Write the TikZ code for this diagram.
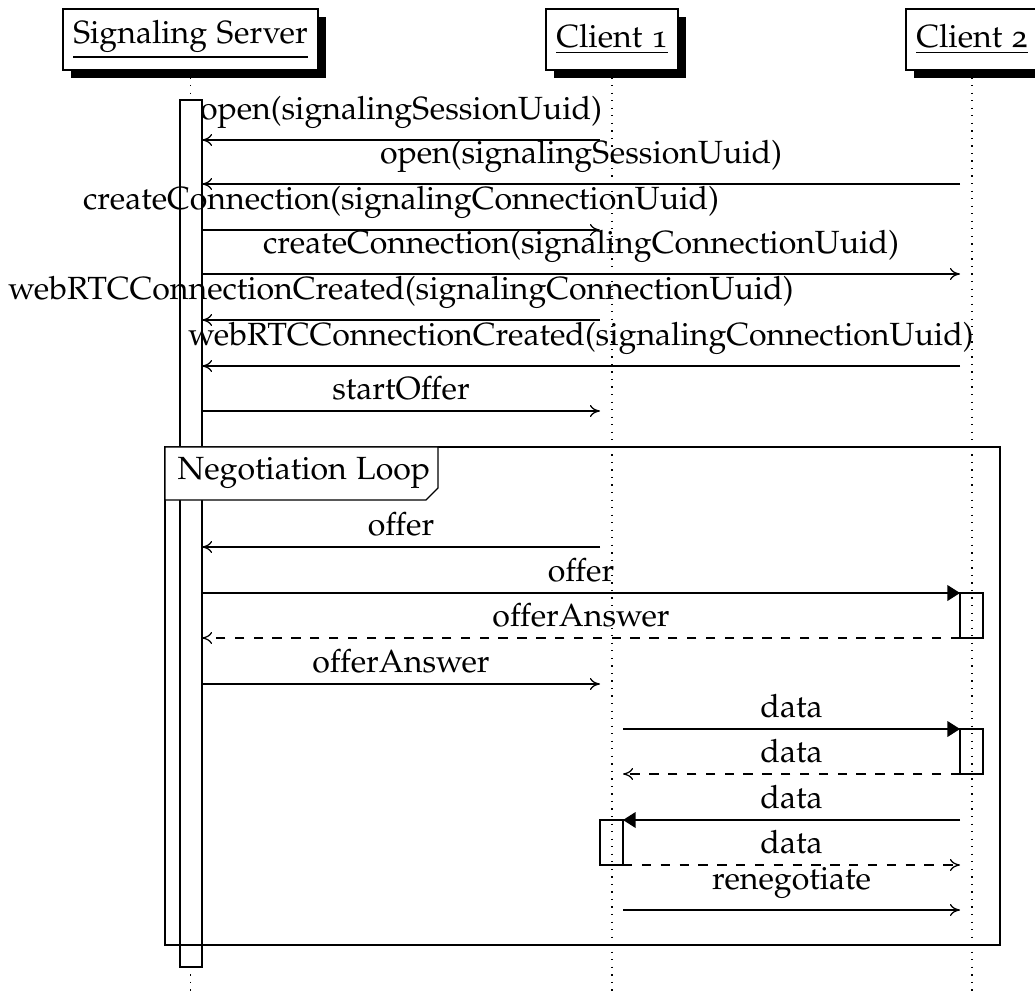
\documentclass[tikz,border=0pt]{standalone}
\usepackage[T1]{fontenc}
\usepackage[osf]{mathpazo}
\usetikzlibrary{arrows.meta,shadows,fit}
\newcommand{\seqmsg}[6]{%
  \coordinate (#6a) at (#2,#4);
  \coordinate (#6b) at (#3,#4);
  \draw[#1] (#6a) -- node[above] (#6l) {#5} (#6b);}
\tikzset{
  lifeline/.style={dotted},
  thread/.style={draw, fill=white, inner sep=0pt, minimum height=19.43pt,
    drop shadow={shadow xshift=2.6pt, shadow yshift=-2.6pt, opacity=1, fill=black}},
  actbox/.style={draw, inner sep=0pt},
  actwhite/.style={draw, fill=white, inner sep=0pt},
  call/.style={-{To[length=3.2pt,width=3.8pt]}},
  sync/.style={-{Triangle[length=4pt,width=5pt]}},
  ret/.style={dashed, -{To[length=3.2pt,width=3.8pt]}},
}
\begin{document}
\begin{tikzpicture}[x=0.3185pt,y=-0.3185pt, font=\fontsize{10.22pt}{12.3pt}\selectfont]
\useasboundingbox (0,0) rectangle (1035,994);
\clip (0,0) rectangle (1035,994);
% lifelines
\coordinate (lsTop) at (190.5,70); \coordinate (lsBot) at (190.5,994);
\coordinate (l1Top) at (612,70); \coordinate (l1Bot) at (612,994);
\coordinate (l2Top) at (972,70); \coordinate (l2Bot) at (972,994);
\draw[lifeline] (lsTop) -- (lsBot);
\draw[lifeline] (l1Top) -- (l1Bot);
\draw[lifeline] (l2Top) -- (l2Bot);
% headers
\node[thread, minimum width=81.2pt] (srv) at (190.5,39.5) {\underline{Signaling Server}};
\node[thread, minimum width=42.0pt] (c1) at (612,39.5) {\underline{Client 1}};
\node[thread, minimum width=42.0pt] (c2) at (972,39.5) {\underline{Client 2}};
% activations
\node[actwhite, fit={(180,100) (202,967)}] (actS) {};
\node[actbox, fit={(960,593) (983,638)}] (actA) {};
\node[actbox, fit={(960,729) (983,774)}] (actB) {};
\node[actbox, fit={(600,820) (623,865)}] (actC) {};
% loop frame
\coordinate (fTL) at (165,447); \coordinate (fBR) at (1000,945);
\draw (fTL) rectangle (fBR);
\draw[fill=white] (165,447) -- (438,447) -- (438,488) -- (426,500) -- (165,500) -- cycle;
\node[anchor=base west, inner sep=0pt] (loopl) at (177,480) {Negotiation Loop};
% messages
\seqmsg{call}{600}{202}{140}{open(signalingSessionUuid)}{m1}
\seqmsg{call}{960}{202}{184}{open(signalingSessionUuid)}{m2}
\seqmsg{call}{202}{600}{230}{createConnection(signalingConnectionUuid)}{m3}
\seqmsg{call}{202}{960}{274}{createConnection(signalingConnectionUuid)}{m4}
\seqmsg{call}{600}{202}{320}{webRTCConnectionCreated(signalingConnectionUuid)}{m5}
\seqmsg{call}{960}{202}{366}{webRTCConnectionCreated(signalingConnectionUuid)}{m6}
\seqmsg{call}{202}{600}{411}{startOffer}{m7}
\seqmsg{call}{600}{202}{547}{offer}{m8}
\seqmsg{sync}{202}{960}{593}{offer}{m9}
\seqmsg{ret}{960}{202}{638}{offerAnswer}{m10}
\seqmsg{call}{202}{600}{684}{offerAnswer}{m11}
\seqmsg{sync}{623}{960}{729}{data}{m12}
\seqmsg{ret}{960}{623}{774}{data}{m13}
\seqmsg{sync}{960}{623}{820}{data}{m14}
\seqmsg{ret}{623}{960}{865}{data}{m15}
\seqmsg{call}{623}{960}{910}{renegotiate}{m16}
\end{tikzpicture}
\end{document}
